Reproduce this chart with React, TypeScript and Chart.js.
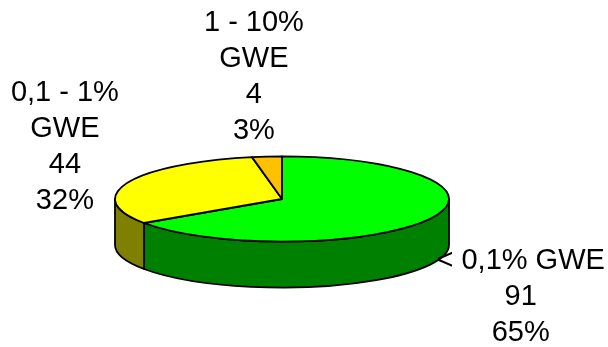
import React, { useEffect, useRef } from "react";
import { Chart, registerables } from "chart.js";

Chart.register(...registerables);

// ---- data ----
const CATEGORY_LINES: string[][] = [["< 0,1% GWE"], ["0,1 - 1%", "GWE"], ["1 - 10%", "GWE"]];
const CATEGORIES: string[] = CATEGORY_LINES.map((l) => l.join(" "));
const VALUES: number[] = [91, 44, 4];

// ---- style ----
const TOP_COLORS = ["#00FF00", "#FFFF00", "#FFC000"];
const SIDE_COLORS = ["#008000", "#808000", "#806000"];
const LABEL_NUDGE: [number, number][] = [
  [91, 78],
  [-63, -36],
  [-13, -80],
];
const TILT = 0.255;
const DEPTH = 46;
const FONT = '29px "Liberation Sans", Arial, sans-serif';
const LINE_H = 36;

const pie3d = {
  id: "pie3d",
  beforeDatasetsDraw(chart: any) {
    const ctx: CanvasRenderingContext2D = chart.ctx;
    const arcs: any[] = chart.getDatasetMeta(0).data;
    if (!arcs.length) return false;
    const cx = arcs[0].x;
    const cy = arcs[0].y;
    const rx = arcs[0].outerRadius;
    const ry = rx * TILT;
    ctx.save();
    ctx.lineWidth = 1.8;
    ctx.strokeStyle = "#000";
    ctx.lineJoin = "round";
    // side walls (front half only)
    const ranges = [
      [0, Math.PI],
      [2 * Math.PI, 3 * Math.PI],
      [-2 * Math.PI, -Math.PI],
    ];
    arcs.forEach((arc, i) => {
      ranges.forEach(([lo, hi]) => {
        const a = Math.max(arc.startAngle, lo);
        const b = Math.min(arc.endAngle, hi);
        if (b - a <= 1e-6) return;
        ctx.beginPath();
        ctx.ellipse(cx, cy, rx, ry, 0, a, b);
        ctx.ellipse(cx, cy + DEPTH, rx, ry, 0, b, a, true);
        ctx.closePath();
        ctx.fillStyle = SIDE_COLORS[i % SIDE_COLORS.length];
        ctx.fill();
        ctx.stroke();
      });
    });
    // top faces
    arcs.forEach((arc, i) => {
      ctx.beginPath();
      ctx.moveTo(cx, cy);
      ctx.ellipse(cx, cy, rx, ry, 0, arc.startAngle, arc.endAngle);
      ctx.closePath();
      ctx.fillStyle = TOP_COLORS[i % TOP_COLORS.length];
      ctx.fill();
      ctx.stroke();
    });
    ctx.restore();
    return false;
  },
  afterDraw(chart: any) {
    const ctx: CanvasRenderingContext2D = chart.ctx;
    const arcs: any[] = chart.getDatasetMeta(0).data;
    if (!arcs.length) return;
    const data: number[] = chart.data.datasets[0].data;
    const total = data.reduce((s, v) => s + v, 0);
    const cx = arcs[0].x;
    const cy = arcs[0].y;
    const rx = arcs[0].outerRadius;
    const ry = rx * TILT;
    ctx.save();
    ctx.font = FONT;
    ctx.fillStyle = "#000";
    ctx.textAlign = "center";
    ctx.textBaseline = "middle";
    arcs.forEach((arc, i) => {
      const mid = (arc.startAngle + arc.endAngle) / 2;
      const px = cx + rx * Math.cos(mid) + LABEL_NUDGE[i][0];
      const py = cy + ry * Math.sin(mid) + LABEL_NUDGE[i][1];
      const lines = [
        ...CATEGORY_LINES[i],
        String(data[i]),
        Math.round((data[i] / total) * 100) + "%",
      ];
      lines.forEach((t, j) => {
        ctx.fillText(t, px, py + (j - (lines.length - 1) / 2) * LINE_H);
      });
    });
    ctx.restore();
  },
};

export default function App() {
  const ref = useRef<HTMLCanvasElement | null>(null);
  useEffect(() => {
    if (!ref.current) return;
    const chart = new Chart(ref.current, {
      type: "pie",
      data: {
        labels: CATEGORIES,
        datasets: [
          {
            data: VALUES,
            backgroundColor: TOP_COLORS,
            borderColor: "#000",
            borderWidth: 1.5,
            radius: 167,
          } as any,
        ],
      },
      options: {
        responsive: false,
        animation: false,
        devicePixelRatio: 1,
        layout: { padding: { left: 115, right: 159, top: 156, bottom: 105 } },
        plugins: { legend: { display: false }, tooltip: { enabled: false } },
      },
      plugins: [pie3d],
    });
    return () => chart.destroy();
  }, []);
  return (
    <div style={{ position: "absolute", left: 0, top: 0, width: 608, height: 347, background: "#fff" }}>
      <canvas ref={ref} width={608} height={347} style={{ display: "block" }} />
    </div>
  );
}
